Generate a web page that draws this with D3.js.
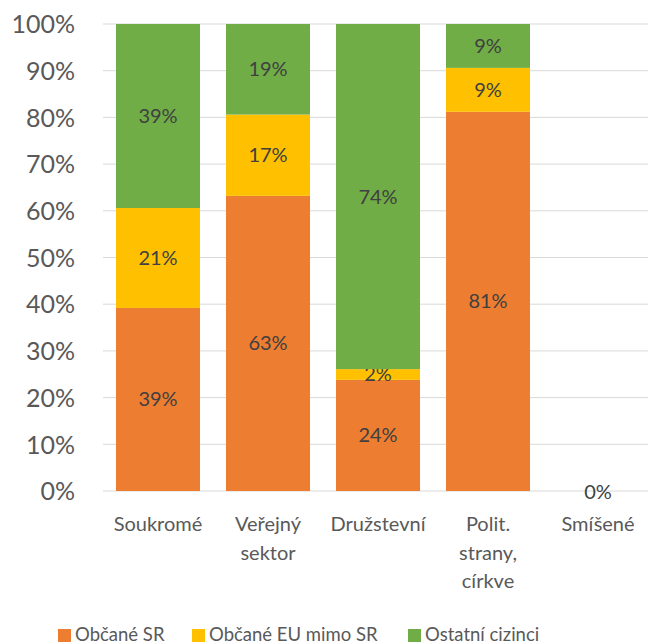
<!DOCTYPE html>
<html><head><meta charset="utf-8">
<script src="https://cdn.jsdelivr.net/npm/d3@7/dist/d3.min.js"></script>
<style>body{margin:0;background:#fff}svg{display:block}</style>
</head><body>
<script>
const categories = [["Soukromé"],["Veřejný","sektor"],["Družstevní"],["Polit.","strany,","církve"],["Smíšené"]];
const seriesNames = ["Občané SR","Občané EU mimo SR","Ostatní cizinci"];
const colors = ["#ED7D31","#FFC000","#70AD47"];
const obcaneSR = [39.2, 63.2, 23.8, 81.2, 0];
const obcaneEU = [21.4, 17.4, 2.3, 9.4, 0];
const ostatni  = [39.4, 19.4, 73.9, 9.4, 0];
const yTicks = [0,10,20,30,40,50,60,70,80,90,100];

const W=648,H=644;
const svg=d3.select("body").append("svg").attr("width",W).attr("height",H);
const font="Lato, 'Open Sans', sans-serif";
const x=d3.scaleBand().domain(d3.range(categories.length)).range([103,653]).paddingInner(26/110).paddingOuter(13/110);
const y=d3.scaleLinear().domain([0,100]).range([491,24]);

// grid
svg.append("g").selectAll("line").data(yTicks).join("line")
 .attr("x1",103).attr("x2",648).attr("y1",d=>y(d)).attr("y2",d=>y(d))
 .attr("stroke","#d9d9d9").attr("stroke-width",1);

// y axis labels
const yAxis=d3.axisLeft(y).tickValues(yTicks).tickFormat(d=>d+"%").tickSize(0).tickPadding(0);
const ga=svg.append("g").attr("transform","translate(75,0)").call(yAxis);
ga.select(".domain").remove();
ga.selectAll("text").attr("font-family",font).attr("font-size",25).attr("fill","#595959").attr("dy","0.35em");

const series=[obcaneSR,obcaneEU,ostatni];
const data=categories.map((c,i)=>{let o={i};series.forEach((s,k)=>o[k]=s[i]);return o;});
const stack=d3.stack().keys([0,1,2])(data);

stack.forEach((layer,k)=>{
  const g=svg.append("g");
  g.selectAll("rect").data(layer).join("rect")
   .attr("x",d=>x(d.data.i)).attr("width",x.bandwidth())
   .attr("y",d=>y(d[1])).attr("height",d=>y(d[0])-y(d[1]))
   .attr("fill",colors[k]);
  g.selectAll("text").data(layer.filter(d=>d[1]-d[0]>0)).join("text")
   .attr("x",d=>x(d.data.i)+x.bandwidth()/2).attr("y",d=>y((d[0]+d[1])/2))
   .attr("dy","0.35em").attr("text-anchor","middle")
   .attr("font-family",font).attr("font-size",20).attr("fill","#404040")
   .text(d=>Math.round(d[1]-d[0])+"%");
});
// zero label for empty category
svg.append("g").selectAll("text").data(data.filter(d=>d[0]+d[1]+d[2]===0)).join("text")
 .attr("x",d=>x(d.i)+x.bandwidth()/2).attr("y",y(0)+1).attr("dy","0.35em").attr("text-anchor","middle")
 .attr("font-family",font).attr("font-size",20).attr("fill","#404040").text("0%");

// category labels
const cg=svg.append("g");
categories.forEach((lines,i)=>{
  const t=cg.append("text").attr("text-anchor","middle").attr("font-family",font).attr("font-size",20).attr("fill","#595959");
  lines.forEach((l,j)=>t.append("tspan").attr("x",x(i)+x.bandwidth()/2).attr("y",531+j*28.5).text(l));
});

// legend
const legX=[58,192,408];
const lg=svg.append("g");
seriesNames.forEach((n,k)=>{
  lg.append("rect").attr("x",legX[k]).attr("y",629).attr("width",13).attr("height",13).attr("fill",colors[k]);
  lg.append("text").attr("x",legX[k]+17).attr("y",641).attr("font-family",font).attr("font-size",18.5).attr("fill","#595959").text(n);
});
</script>
</body></html>
